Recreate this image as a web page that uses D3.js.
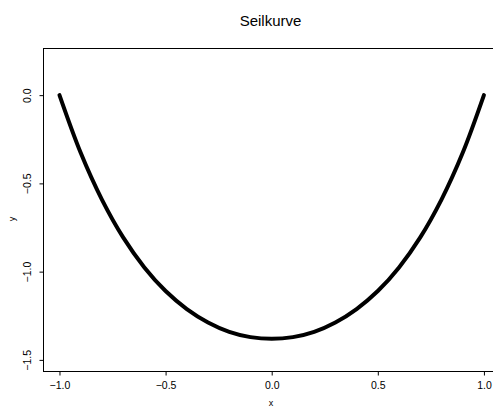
<!DOCTYPE html>
<html>
<head>
<meta charset="utf-8">
<script src="https://cdn.jsdelivr.net/npm/d3@7"></script>
<style>
  html, body { margin: 0; padding: 0; background: #fff; }
  svg { display: block; }
  text { font-family: "Liberation Sans", Arial, sans-serif; fill: #000; }
</style>
</head>
<body>
<script>
const titleText = "Seilkurve";
const xLabel = "x";
const yLabel = "y";
const xValues = [-1.0, -0.9, -0.8, -0.7, -0.6, -0.5, -0.4, -0.3, -0.2, -0.1, 0.0,
                  0.1, 0.2, 0.3, 0.4, 0.5, 0.6, 0.7, 0.8, 0.9, 1.0];
const yValues = [0.0, -0.327, -0.592, -0.806, -0.976, -1.110, -1.212, -1.288, -1.341, -1.371, -1.381,
                 -1.371, -1.341, -1.288, -1.212, -1.110, -0.976, -0.806, -0.592, -0.327, 0.0];
const xTicks = [-1.0, -0.5, 0.0, 0.5, 1.0];
const yTicks = [-1.5, -1.0, -0.5, 0.0];
const xLimits = [-1.08, 1.08];
const yLimits = [-1.567, 0.266];

const W = 493, H = 408;
const svg = d3.select("body").append("svg").attr("width", W).attr("height", H);

const x = d3.scaleLinear().domain(xLimits).range([42.5, 500.9]);
const y = d3.scaleLinear().domain(yLimits).range([371.7, 48.2]);

const fmt = d => d3.format(".1f")(d).replace("-", "\u2212");

// curve
const pts = xValues.map((v, i) => [v, yValues[i]]);
svg.append("path")
  .datum(pts)
  .attr("fill", "none")
  .attr("stroke", "#000")
  .attr("stroke-width", 4)
  .attr("stroke-linecap", "round")
  .attr("stroke-linejoin", "round")
  .attr("d", d3.line().x(d => x(d[0])).y(d => y(d[1])).curve(d3.curveCatmullRom.alpha(0.5)));

// frame
const x0 = Math.round(x(xLimits[0])) + 0.5;
const y0 = Math.round(y(yLimits[0])) - 0.5;
const y1 = Math.round(y(yLimits[1])) + 0.5;
svg.append("rect")
  .attr("x", x0).attr("y", y1)
  .attr("width", x(xLimits[1]) - x0).attr("height", y0 - y1)
  .attr("fill", "none").attr("stroke", "#000").attr("stroke-width", 1);

// x axis
const xAxis = d3.axisBottom(x).tickValues(xTicks).tickSize(4).tickPadding(6).tickFormat(fmt);
const gx = svg.append("g").attr("transform", `translate(0,${y0})`).call(xAxis);
gx.select(".domain").remove();
gx.selectAll("text").attr("font-size", 10.5).attr("font-family", "Liberation Sans, Arial, sans-serif");

// y axis
const yAxis = d3.axisLeft(y).tickValues(yTicks).tickSize(4).tickFormat(fmt);
const gy = svg.append("g").attr("transform", `translate(${x0},0)`).call(yAxis);
gy.select(".domain").remove();
gy.selectAll("text")
  .attr("font-size", 10.5).attr("font-family", "Liberation Sans, Arial, sans-serif")
  .attr("x", null).attr("dy", null).attr("y", 0)
  .attr("text-anchor", "middle")
  .attr("transform", `translate(${30.5 - x0},0) rotate(-90)`);

// title
svg.append("text").attr("x", 270.5).attr("y", 26).attr("text-anchor", "middle")
  .attr("font-size", 15).text(titleText);

// axis labels
svg.append("text").attr("x", 271).attr("y", 405.5).attr("text-anchor", "middle")
  .attr("font-size", 9).text(xLabel);
svg.append("text").attr("transform", "translate(14.7,219) rotate(-90)").attr("text-anchor", "middle")
  .attr("font-size", 9).text(yLabel);
</script>
</body>
</html>
